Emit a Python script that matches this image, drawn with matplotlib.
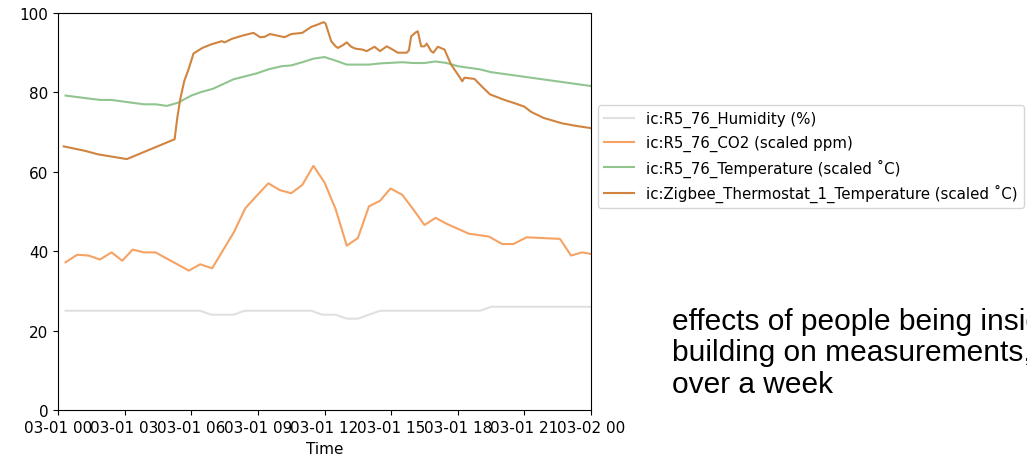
import pandas as pd
import matplotlib.dates as mdates
from matplotlib import pyplot as plt

plt.rcParams['font.size'] = 11

# data (hours after 03-01 00:00)
hum_h = [0.34, 6.4, 6.9, 7.9, 8.4, 11.4, 11.9, 12.5, 13.0, 13.5, 14.5, 19.0, 19.5, 24.0]
hum_v = [25, 25, 24, 24, 25, 25, 24, 24, 23, 23, 25, 25, 26, 26]

co2_h = [0.34, 0.86, 1.38, 1.89, 2.41, 2.89, 3.36, 3.87, 4.39, 5.89, 6.40, 6.94, 7.92, 8.43,
         8.95, 9.47, 9.98, 10.5, 11.0, 11.5, 12.0, 12.5, 13.0, 13.5, 14.0, 14.5, 14.97, 15.5,
         16.0, 16.5, 17.0, 17.5, 18.5, 19.4, 20.0, 20.5, 21.1, 22.6, 23.1, 23.6, 24.0]
co2_v = [37.2, 39.1, 38.9, 37.9, 39.7, 37.6, 40.4, 39.7, 39.7, 35.1, 36.7, 35.7, 44.8, 50.8,
         54.0, 57.1, 55.4, 54.6, 56.7, 61.5, 57.3, 50.6, 41.4, 43.3, 51.3, 52.7, 55.8, 54.2,
         50.5, 46.6, 48.4, 46.9, 44.4, 43.7, 41.8, 41.8, 43.5, 43.1, 38.9, 39.7, 39.3]

temp_h = [0.34, 1.89, 2.4, 3.87, 4.4, 4.9, 5.4, 6.0, 6.45, 6.97, 7.9, 8.95, 9.47, 10.07, 10.5,
          11.0, 11.5, 12.0, 12.5, 13.0, 14.0, 14.5, 15.5, 16.0, 16.5, 17.0, 17.5, 18.0, 19.0,
          19.5, 24.0]
temp_v = [79.2, 78.1, 78.1, 77.0, 77.0, 76.6, 77.4, 79.2, 80.1, 80.9, 83.3, 84.8, 85.8, 86.6, 86.8,
          87.6, 88.5, 88.9, 88.0, 87.0, 87.0, 87.3, 87.6, 87.4, 87.4, 87.8, 87.4, 86.6, 85.8,
          85.1, 81.6]

zig_h = [0.26, 1.2, 1.8, 3.1, 5.25, 5.37, 5.5, 5.68, 5.9, 6.1, 6.5, 6.9, 7.37, 7.5, 7.83, 8.3,
         8.8, 9.1, 9.3, 9.55, 10.2, 10.5, 11.0, 11.4, 11.7, 11.96, 12.05, 12.3, 12.5, 12.6, 12.8,
         13.0, 13.2, 13.4, 13.7, 13.9, 14.25, 14.5, 14.8, 15.0, 15.3, 15.7, 15.8, 15.9, 16.1,
         16.2, 16.35, 16.5, 16.6, 16.8, 16.9, 17.1, 17.4, 17.7, 18.1, 18.2, 18.3, 18.75, 19.1,
         19.45, 20.1, 20.6, 21.0, 21.3, 21.85, 22.7, 23.4, 24.0]
zig_v = [66.4, 65.3, 64.4, 63.2, 68.2, 73.6, 78.2, 82.8, 86.2, 89.8, 91.2, 92.1, 92.9, 92.6, 93.5, 94.3,
         95.0, 93.9, 94.0, 94.7, 93.9, 94.7, 95.0, 96.5, 97.1, 97.7, 97.3, 92.9, 91.6, 91.2, 91.8,
         92.6, 91.5, 91.0, 90.8, 90.4, 91.5, 90.4, 91.6, 91.0, 90.0, 90.0, 90.6, 94.1, 95.1,
         95.4, 91.6, 91.6, 92.3, 90.4, 90.0, 91.5, 90.8, 87.0, 83.7, 82.8, 83.7, 83.4, 81.4,
         79.5, 78.1, 77.2, 76.4, 75.1, 73.6, 72.2, 71.5, 71.0]

labels = ['ic:R5_76_Humidity (%)', 'ic:R5_76_CO2 (scaled ppm)',
          'ic:R5_76_Temperature (scaled ˚C)', 'ic:Zigbee_Thermostat_1_Temperature (scaled ˚C)']
colors = ['#e0e0e0', '#f5a263', '#90c590', '#d0843f']

start = pd.Timestamp('2023-03-01 00:00')
def to_time(hours):
    return [start + pd.Timedelta(hours=h) for h in hours]

fig = plt.figure(figsize=(10.27, 4.56), dpi=100)
ax = fig.add_axes([0.0565, 0.0987, 0.519, 0.8706])

series = [(hum_h, hum_v), (co2_h, co2_v), (temp_h, temp_v), (zig_h, zig_v)]
for (h, v), lab, c in zip(series, labels, colors):
    ax.plot(to_time(h), v, color=c, label=lab, lw=1.5)

ax.set_ylim(0, 100)
ax.set_xlim(start, start + pd.Timedelta(hours=24))
ax.xaxis.set_major_locator(mdates.HourLocator(byhour=range(0, 24, 3)))
ax.xaxis.set_major_formatter(mdates.DateFormatter('%m-%d %H'))
ax.set_xlabel('Time', labelpad=4.5)
ax.legend(loc='upper left', bbox_to_anchor=(1.013, 0.768), borderaxespad=0, fontsize=10.8)

# slide text beside the chart, cut by the right edge as in the picture
fig.text(0.654, 0.225, 'effects of people being inside the\nbuilding on measurements,\nover a week',
         fontsize=21.5, family='Liberation Sans', va='center', ha='left', linespacing=1.15)

fig.savefig('out.png', dpi=100)
